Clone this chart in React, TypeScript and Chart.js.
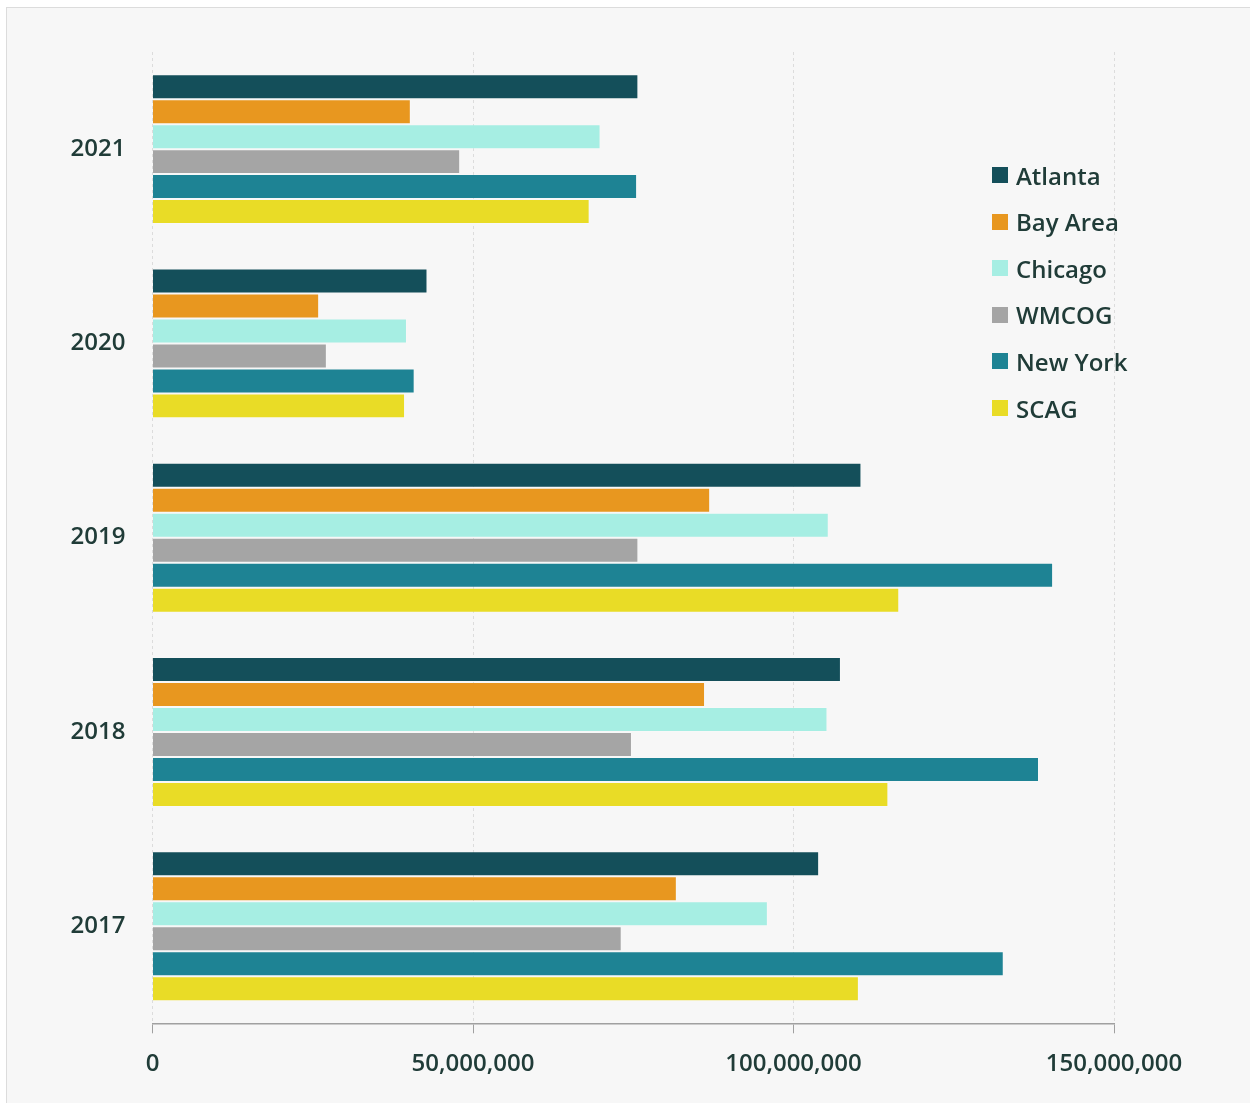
import React, { useEffect, useRef } from "react";
import { Chart, registerables } from "chart.js";

Chart.register(...registerables);

const years = ["2021", "2020", "2019", "2018", "2017"];
const seriesNames = ["Atlanta", "Bay Area", "Chicago", "WMCOG", "New York", "SCAG"];
const seriesColors = ["#144f5a", "#e8971f", "#a6eee3", "#a5a5a5", "#1e8394", "#e9dc26"];

const atlanta = [75.8e6, 42.9e6, 110.6e6, 107.4e6, 104.0e6];
const bayArea = [40.3e6, 26.0e6, 87.0e6, 86.2e6, 81.8e6];
const chicago = [69.9e6, 39.7e6, 105.5e6, 105.3e6, 96.0e6];
const wmcog = [48.0e6, 27.2e6, 75.8e6, 74.8e6, 73.2e6];
const newYork = [75.6e6, 40.9e6, 140.5e6, 138.3e6, 132.8e6];
const scag = [68.2e6, 39.4e6, 116.5e6, 114.8e6, 110.2e6];

const seriesValues = [atlanta, bayArea, chicago, wmcog, newYork, scag];
const xTicks = [0, 50000000, 100000000, 150000000];

const FONT = "'Open Sans', 'Noto Sans', sans-serif";
const WEIGHT = 600;
const TEXT = "#203c38";

export default function App() {
  const ref = useRef<HTMLCanvasElement>(null);
  useEffect(() => {
    if (!ref.current) return;
    const chart = new Chart(ref.current, {
      type: "bar",
      data: {
        labels: years,
        datasets: seriesNames.map((name, i) => ({
          label: name,
          data: seriesValues[i],
          backgroundColor: seriesColors[i],
          borderColor: "rgba(255,255,255,0.18)",
          borderWidth: 1,
          barPercentage: 1,
          categoryPercentage: 0.772,
        })),
      },
      options: {
        indexAxis: "y",
        animation: false,
        responsive: true,
        maintainAspectRatio: false,
        layout: { padding: { top: 44, right: 136, bottom: 0, left: 0 } },
        plugins: { legend: { display: false }, tooltip: { enabled: false } },
        scales: {
          x: {
            min: 0,
            max: 150000000,
            afterBuildTicks: (s: any) => {
              s.ticks = xTicks.map((v) => ({ value: v }));
            },
            afterFit: (s: any) => {
              s.height = 79.7;
            },
            grid: {
              color: "#dcdcdc",
              lineWidth: 1,
              tickColor: "#a0a0a0",
              tickLength: 10,
              tickWidth: 1,
              tickBorderDash: [],
            },
            border: { display: true, color: "#a0a0a0", width: 1.5, dash: [3, 3] },
            ticks: {
              color: TEXT,
              padding: 16,
              maxRotation: 0,
              font: { family: FONT, size: 24, weight: WEIGHT as any },
              callback: (v: any) => Number(v).toLocaleString("en-US"),
            },
          },
          y: {
            afterFit: (s: any) => {
              s.width = 145.5;
            },
            grid: { display: false, drawTicks: false },
            border: { display: false },
            ticks: {
              color: TEXT,
              padding: 27,
              font: { family: FONT, size: 24, weight: WEIGHT as any },
            },
          },
        },
      },
    });
    return () => chart.destroy();
  }, []);

  return (
    <div
      style={{
        position: "absolute",
        left: 6,
        top: 7,
        width: 1260,
        height: 1110,
        border: "1px solid #dcdcdc",
        background: "#f7f7f7",
        overflow: "hidden",
      }}
    >
      <div style={{ position: "absolute", left: 0, top: 0, width: 1243, height: 1095 }}>
        <canvas ref={ref} />
      </div>
      {seriesNames.map((name, i) => (
        <div
          key={name}
          style={{
            position: "absolute",
            left: 992 - 7,
            top: 175 - 8 - 16 + i * 46.6,
            height: 32,
            display: "flex",
            alignItems: "center",
            fontFamily: FONT,
            fontWeight: WEIGHT,
            fontSize: 24,
            color: TEXT,
            whiteSpace: "nowrap",
          }}
        >
          <span
            style={{
              display: "inline-block",
              width: 16,
              height: 16,
              background: seriesColors[i],
              marginRight: 8,
            }}
          />
          {name}
        </div>
      ))}
    </div>
  );
}
